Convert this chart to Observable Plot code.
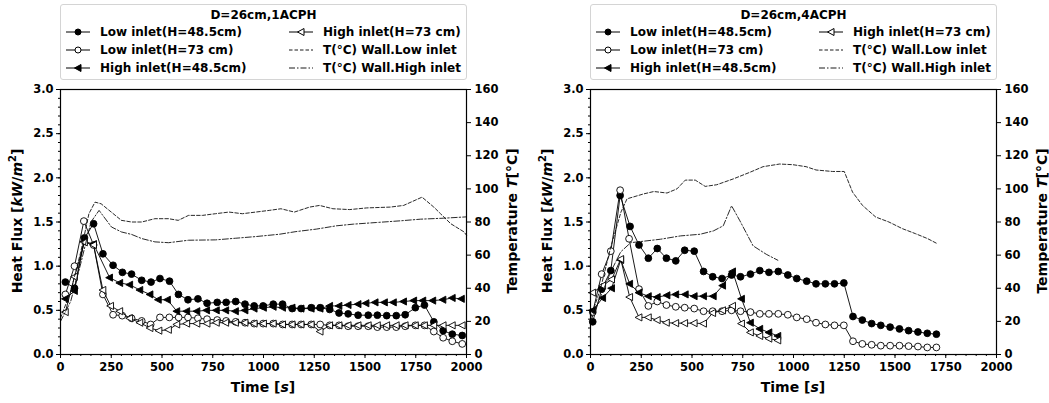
<!DOCTYPE html>
<html>
<head>
<meta charset="utf-8">
<script src="https://cdn.jsdelivr.net/npm/d3@7"></script>
<script src="https://cdn.jsdelivr.net/npm/@observablehq/plot@0.6"></script>
<style>
  body { margin: 0; background: #fff; font-family: "DejaVu Sans", sans-serif; }
  #fig { position: relative; width: 1049px; height: 403px; overflow: hidden; background: #fff; }
  .panel { position: absolute; top: 0; width: 520px; height: 403px; }
  .panel svg { position: absolute; left: 0; top: 0; }
  .legend { position: absolute; left: 60px; top: 4px; width: 405px; height: 74px; border: 1px solid #d4d4d4; border-radius: 3px; background: #fff; font-weight: bold; font-size: 12px; color: #000; }
  .legend .title { position: absolute; left: 0; right: 0; top: 3px; text-align: center; }
  .legend .item { position: absolute; height: 16px; display: flex; align-items: center; white-space: nowrap; }
  .legend .item svg { position: static; margin-right: 10px; }
  .lab { position: absolute; font-weight: bold; font-size: 14px; white-space: nowrap; transform: translate(-50%, -50%); }
  .rot { transform: translate(-50%, -50%) rotate(-90deg); }
</style>
</head>
<body>
<div id="fig"></div>
<script>
// tick values
const timeTicks = [0, 250, 500, 750, 1000, 1250, 1500, 1750, 2000];
const fluxTicks = [0, 0.5, 1.0, 1.5, 2.0, 2.5, 3.0];
const tempTicks = [0, 20, 40, 60, 80, 100, 120, 140, 160];

const legendLabels = ["Low inlet(H=48.5cm)", "Low inlet(H=73 cm)", "High inlet(H=48.5cm)",
  "High inlet(H=73 cm)", "T(°C) Wall.Low inlet", "T(°C) Wall.High inlet"];
const titles = ["D=26cm,1ACPH", "D=26cm,4ACPH"];

// ---- left panel (1 ACPH): [time s, heat flux kW/m2]
const lowInlet485_1 = [[24,0.82],[69,0.75],[118,1.32],[163,1.48],[209,1.14],[259,1.01],[305,0.93],[350,0.91],[400,0.84],[446,0.82],[490,0.86],[537,0.83],[581,0.68],[628,0.62],[677,0.63],[722,0.58],[772,0.59],[816,0.59],[863,0.60],[909,0.57],[954,0.55],[998,0.55],[1048,0.57],[1094,0.57],[1141,0.52],[1185,0.52],[1235,0.53],[1279,0.53],[1326,0.51],[1372,0.47],[1417,0.46],[1466,0.445],[1516,0.445],[1561,0.445],[1607,0.44],[1654,0.44],[1698,0.45],[1748,0.53],[1793,0.56],[1839,0.37],[1885,0.27],[1930,0.23],[1979,0.215]];
const lowInlet73_1 = [[24,0.68],[69,1.0],[115,1.51],[163,1.24],[209,0.68],[259,0.45],[304,0.44],[350,0.41],[400,0.38],[444,0.34],[490,0.42],[536,0.42],[582,0.42],[628,0.42],[677,0.41],[722,0.40],[772,0.39],[816,0.38],[863,0.37],[909,0.36],[954,0.35],[998,0.35],[1048,0.35],[1094,0.34],[1141,0.34],[1185,0.34],[1235,0.34],[1279,0.34],[1326,0.33],[1372,0.33],[1417,0.32],[1466,0.32],[1516,0.32],[1561,0.31],[1607,0.31],[1654,0.31],[1698,0.32],[1748,0.33],[1793,0.33],[1839,0.26],[1885,0.19],[1930,0.15],[1979,0.12]];
const highInlet485_1 = [[24,0.63],[69,0.72],[116,1.28],[163,1.25],[242,0.87],[292,0.81],[341,0.79],[391,0.73],[441,0.68],[482,0.62],[527,0.62],[573,0.49],[622,0.49],[672,0.49],[720,0.50],[768,0.50],[814,0.50],[862,0.49],[909,0.50],[954,0.52],[1000,0.53],[1048,0.54],[1094,0.53],[1141,0.53],[1185,0.52],[1235,0.52],[1279,0.52],[1326,0.55],[1372,0.55],[1417,0.56],[1466,0.57],[1505,0.58],[1550,0.59],[1596,0.59],[1640,0.59],[1690,0.60],[1740,0.61],[1785,0.61],[1834,0.61],[1884,0.62],[1930,0.64],[1975,0.63]];
const highInlet73_1 = [[24,0.48],[69,0.88],[118,1.27],[163,1.24],[209,0.73],[247,0.55],[292,0.49],[341,0.41],[391,0.36],[441,0.30],[485,0.27],[532,0.28],[573,0.34],[622,0.35],[672,0.35],[722,0.35],[768,0.36],[814,0.36],[862,0.36],[909,0.36],[954,0.35],[1000,0.35],[1048,0.35],[1094,0.34],[1141,0.34],[1185,0.34],[1235,0.34],[1279,0.26],[1326,0.33],[1372,0.33],[1417,0.33],[1466,0.33],[1516,0.33],[1561,0.33],[1607,0.33],[1654,0.33],[1698,0.33],[1748,0.33],[1793,0.33],[1839,0.33],[1885,0.33],[1930,0.33],[1979,0.33]];
// [time s, temperature °C]
const wallLow_1 = [[0,22],[50,38],[100,62],[140,85],[170,92],[200,91],[250,86],[300,81],[350,80],[400,80],[465,82],[532,82],[580,81],[631,84],[700,84],[763,85],[830,86],[896,85],[962,86],[1028,87],[1086,88],[1152,86],[1227,89],[1276,90],[1342,88],[1425,87.5],[1508,88.5],[1624,89],[1690,90],[1781,95],[1839,89],[1872,85],[1922,79],[1988,74],[2000,72]];
const wallHigh_1 = [[0,20],[50,32],[100,55],[150,80],[190,87],[251,77],[300,74],[350,72.5],[400,70],[465,68],[532,67.5],[631,69],[763,69.2],[863,70.2],[962,71.2],[1078,72.6],[1160,74.2],[1260,75.7],[1359,77.7],[1442,78.7],[1557,79.7],[1673,80.7],[1773,81.7],[1888,82.3],[2000,83.1]];

// ---- right panel (4 ACPH)
const lowInlet485_4 = [[11,0.37],[55,0.74],[100,0.95],[146,1.80],[195,1.45],[239,1.24],[285,1.09],[329,1.20],[374,1.09],[420,1.06],[464,1.18],[511,1.17],[557,0.94],[602,0.88],[648,0.86],[695,0.90],[739,0.88],[788,0.91],[834,0.95],[879,0.93],[925,0.94],[972,0.90],[1016,0.86],[1065,0.83],[1111,0.80],[1157,0.80],[1202,0.80],[1248,0.81],[1293,0.43],[1339,0.39],[1385,0.35],[1430,0.33],[1476,0.31],[1522,0.29],[1567,0.27],[1613,0.255],[1659,0.24],[1704,0.23]];
const lowInlet73_4 = [[11,0.48],[55,0.91],[100,1.17],[146,1.86],[190,1.31],[239,0.74],[285,0.55],[329,0.60],[374,0.56],[420,0.54],[464,0.53],[511,0.52],[557,0.49],[602,0.49],[648,0.49],[695,0.50],[739,0.49],[788,0.48],[834,0.46],[879,0.46],[925,0.46],[972,0.45],[1016,0.42],[1065,0.40],[1111,0.36],[1157,0.34],[1202,0.33],[1248,0.33],[1293,0.15],[1339,0.12],[1385,0.11],[1430,0.10],[1476,0.10],[1522,0.10],[1567,0.095],[1613,0.09],[1659,0.08],[1704,0.08]];
const highInlet485_4 = [[11,0.50],[60,0.64],[104,0.75],[149,1.07],[193,0.80],[239,0.70],[285,0.66],[329,0.65],[377,0.67],[420,0.68],[467,0.68],[511,0.66],[557,0.66],[605,0.66],[651,0.78],[700,0.94],[744,0.63],[788,0.36],[834,0.29],[879,0.25],[923,0.21]];
const highInlet73_4 = [[11,0.70],[60,0.78],[104,0.85],[149,1.08],[193,0.65],[239,0.42],[285,0.42],[329,0.39],[374,0.36],[420,0.355],[464,0.355],[511,0.355],[557,0.35],[602,0.47],[651,0.50],[700,0.55],[744,0.35],[788,0.25],[834,0.21],[879,0.18],[923,0.16]];
const wallLow_4 = [[0,22],[50,40],[100,65],[150,86],[180,94],[263,97],[312,98.4],[377,97.5],[426,100],[467,105.3],[516,105.3],[565,101.5],[622,102.5],[703,106],[785,110],[850,113.4],[932,115],[997,114.6],[1062,113.4],[1111,111.4],[1192,110.5],[1250,110.5],[1291,98],[1340,90],[1405,83],[1470,80],[1536,76],[1600,73],[1660,70],[1707,67]];
const wallHigh_4 = [[0,20],[50,35],[100,50],[149,62],[198,67.5],[247,68.2],[345,69.6],[443,71.6],[540,72.6],[605,74.6],[654,77.7],[695,89.8],[736,80.7],[801,65.6],[866,60.5],[923,56.9]];

// left-pointing triangle symbol
const triLeft = {
  draw(ctx, size) {
    const r = Math.sqrt(size / Math.PI);
    ctx.moveTo(-r * 1.15, 0);
    ctx.lineTo(r * 0.85, -r * 1.05);
    ctx.lineTo(r * 0.85, r * 1.05);
    ctx.closePath();
  }
};

const styles = [
  {symbol: "circle", fill: "black"},
  {symbol: "circle", fill: "white"},
  {symbol: triLeft, fill: "black"},
  {symbol: triLeft, fill: "white"}
];
const dashLow = "3.5,2";
const dashHigh = "6,2,1.5,2";

const toY = t => t * 3 / 160;

function drawPanel(flux, wallLow, wallHigh) {
  const marks = [
    Plot.axisX(d3.range(0, 2001, 50), {tickSize: 2, tickFormat: () => "", label: null}),
    Plot.axisY(d3.range(0, 3.001, 0.1), {tickSize: 2, tickFormat: () => "", label: null}),
    Plot.axisX(timeTicks, {tickSize: 4, tickPadding: 4, label: null, tickFormat: d => String(d)}),
    Plot.axisY(fluxTicks, {tickSize: 4, tickPadding: 3, label: null, tickFormat: d => d.toFixed(1)}),
    Plot.axisY(tempTicks.map(toY), {anchor: "right", tickSize: 4, tickPadding: 4, label: null, tickFormat: d => String(Math.round(d * 160 / 3))})
  ];
  flux.forEach((data, i) => {
    marks.push(Plot.line(data, {x: d => d[0], y: d => d[1], stroke: "black", strokeWidth: 0.9}));
    marks.push(Plot.dot(data, {x: d => d[0], y: d => d[1], symbol: styles[i].symbol, r: 3.4,
      fill: styles[i].fill, stroke: "black", strokeWidth: 0.9}));
  });
  marks.push(Plot.line(wallLow, {x: d => d[0], y: d => toY(d[1]), stroke: "#111", strokeWidth: 0.9, strokeDasharray: dashLow}));
  marks.push(Plot.line(wallHigh, {x: d => d[0], y: d => toY(d[1]), stroke: "#111", strokeWidth: 0.9, strokeDasharray: dashHigh}));
  marks.push(Plot.frame({stroke: "black", strokeWidth: 1.2}));
  return Plot.plot({
    width: 520, height: 403,
    marginLeft: 60, marginRight: 54, marginTop: 89, marginBottom: 49,
    style: {fontFamily: "DejaVu Sans", fontSize: "11.5px", fontWeight: "bold", color: "black", background: "white", overflow: "visible"},
    x: {domain: [0, 2000]},
    y: {domain: [0, 3]},
    marks
  });
}

function handle(i) {
  const svg = d3.create("svg").attr("width", 24).attr("height", 10);
  const line = svg.append("line").attr("x1", 0).attr("x2", 24).attr("y1", 5).attr("y2", 5)
    .attr("stroke", "black").attr("stroke-width", 1);
  if (i < 4) {
    if (styles[i].symbol === "circle") {
      svg.append("circle").attr("cx", 12).attr("cy", 5).attr("r", 3).attr("fill", styles[i].fill).attr("stroke", "black");
    } else {
      svg.append("path").attr("d", "M8.5,5L15,1.5L15,8.5Z").attr("fill", styles[i].fill).attr("stroke", "black");
    }
  } else {
    line.attr("stroke-dasharray", i === 4 ? dashLow : dashHigh).attr("stroke-width", 0.9);
  }
  return svg.node();
}

const fig = d3.select("#fig");
const panels = [
  {left: 0, title: titles[0], flux: [lowInlet485_1, lowInlet73_1, highInlet485_1, highInlet73_1], wl: wallLow_1, wh: wallHigh_1},
  {left: 530, title: titles[1], flux: [lowInlet485_4, lowInlet73_4, highInlet485_4, highInlet73_4], wl: wallLow_4, wh: wallHigh_4}
];

panels.forEach(p => {
  const div = fig.append("div").attr("class", "panel").style("left", p.left + "px");
  div.append(() => drawPanel(p.flux, p.wl, p.wh));

  const leg = div.append("div").attr("class", "legend");
  leg.append("div").attr("class", "title").text(p.title);
  const rows = [27, 45, 63];
  legendLabels.forEach((lab, i) => {
    const col = i < 3 ? 0 : 1;
    const row = i % 3;
    const item = leg.append("div").attr("class", "item")
      .style("left", (col === 0 ? 5 : 228) + "px")
      .style("top", (rows[row] - 8) + "px");
    item.append(() => handle(i));
    item.append("span").text(lab);
  });

  div.append("div").attr("class", "lab rot").style("left", "16px").style("top", "221px")
    .html("Heat Flux [<i>kW</i>/<i>m</i><sup style='font-size:10px'>2</sup>]");
  div.append("div").attr("class", "lab rot").style("left", "512px").style("top", "221px")
    .html("Temperature <i>T</i>[°C]");
  div.append("div").attr("class", "lab").style("left", "263px").style("top", "387px")
    .html("Time [<i>s</i>]");
});
</script>
</body>
</html>
